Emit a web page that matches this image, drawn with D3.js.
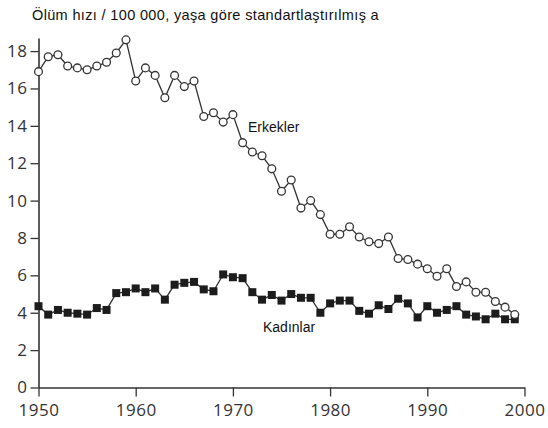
<!DOCTYPE html>
<html>
<head>
<meta charset="utf-8">
<script src="https://cdn.jsdelivr.net/npm/d3@7"></script>
<style>
  html, body { margin: 0; padding: 0; background: #fff; }
  svg { display: block; }
  .tick text { font-family: "Open Sans", sans-serif; font-size: 17px; fill: #333; letter-spacing: 0.5px; }
</style>
</head>
<body>
<svg id="chart" width="548" height="428"></svg>
<script>
// Age-standardised death rate per 100 000, by year
const years = d3.range(1950, 2000);
const erkekler = [
  16.9, 17.7, 17.8, 17.2, 17.1, 17.0, 17.2, 17.4, 17.9, 18.6,
  16.4, 17.1, 16.7, 15.5, 16.7, 16.1, 16.4, 14.5, 14.7, 14.2,
  14.6, 13.1, 12.6, 12.4, 11.7, 10.5, 11.1, 9.6, 10.0, 9.25,
  8.2, 8.2, 8.6, 8.05, 7.8, 7.7, 8.05, 6.9, 6.85, 6.6,
  6.35, 5.95, 6.35, 5.4, 5.65, 5.1, 5.1, 4.6, 4.3, 3.9
];
const kadinlar = [
  4.35, 3.9, 4.15, 4.0, 3.95, 3.9, 4.25, 4.15, 5.05, 5.1,
  5.3, 5.1, 5.3, 4.7, 5.5, 5.6, 5.65, 5.25, 5.15, 6.05,
  5.9, 5.85, 5.1, 4.7, 4.95, 4.65, 5.0, 4.8, 4.8, 4.0,
  4.5, 4.65, 4.65, 4.1, 3.95, 4.4, 4.2, 4.75, 4.5, 3.75,
  4.35, 4.0, 4.15, 4.35, 3.9, 3.8, 3.65, 3.95, 3.65, 3.65
];
const xTicks = [1950, 1960, 1970, 1980, 1990, 2000];
const yTicks = [0, 2, 4, 6, 8, 10, 12, 14, 16, 18];
const titleText = "Ölüm hızı / 100 000, yaşa göre standartlaştırılmış a";

const svg = d3.select("#chart");
const plot = { left: 38.5, right: 524.5, bottom: 387.5, top: 38 };

const x = d3.scaleLinear().domain([1950, 2000]).range([plot.left, plot.right]);
const y = d3.scaleLinear().domain([0, 18.7]).range([plot.bottom, plot.top]);

const ink = "#333";

// axes
const xAxis = svg.append("g")
  .attr("transform", `translate(0,${plot.bottom})`)
  .call(d3.axisBottom(x).tickValues(xTicks).tickFormat(d3.format("d"))
    .tickSize(9).tickSizeOuter(0).tickPadding(7));
const yAxis = svg.append("g")
  .attr("transform", `translate(${plot.left},0)`)
  .call(d3.axisLeft(y).tickValues(yTicks).tickSize(8).tickSizeOuter(0).tickPadding(3));

[xAxis, yAxis].forEach(g => {
  g.select(".domain").attr("stroke", ink).attr("stroke-width", 1.6);
  g.selectAll(".tick line").attr("stroke", ink).attr("stroke-width", 1.3);
});
xAxis.selectAll(".tick text").attr("dy", "0.76em");

const line = d3.line().x((d, i) => x(years[i])).y(d => y(d));

// Kadınlar series: filled squares
svg.append("path").datum(kadinlar)
  .attr("d", line).attr("fill", "none")
  .attr("stroke", ink).attr("stroke-width", 1.3);
const sq = 8;
svg.append("g").selectAll("rect").data(kadinlar).join("rect")
  .attr("x", (d, i) => x(years[i]) - sq / 2)
  .attr("y", d => y(d) - sq / 2)
  .attr("width", sq).attr("height", sq)
  .attr("fill", "#1c1c1c");

// Erkekler series: open circles
svg.append("path").datum(erkekler)
  .attr("d", line).attr("fill", "none")
  .attr("stroke", ink).attr("stroke-width", 1.3);
svg.append("g").selectAll("circle").data(erkekler).join("circle")
  .attr("cx", (d, i) => x(years[i]))
  .attr("cy", d => y(d))
  .attr("r", 3.9)
  .attr("fill", "#fff")
  .attr("stroke", ink).attr("stroke-width", 1.3);

// title and series labels
svg.append("text")
  .attr("x", 32).attr("y", 20)
  .attr("font-family", "'Liberation Sans Narrow', 'Liberation Sans', Arial, sans-serif")
  .attr("font-size", 14.5).attr("letter-spacing", "0.35px").attr("fill", "#111")
  .text(titleText);

svg.append("text")
  .attr("x", 248).attr("y", 132)
  .attr("font-family", "'Liberation Sans', Arial, sans-serif")
  .attr("font-size", 14).attr("fill", "#111")
  .text("Erkekler");

svg.append("text")
  .attr("x", 263).attr("y", 332)
  .attr("font-family", "'Liberation Sans', Arial, sans-serif")
  .attr("font-size", 14).attr("fill", "#111")
  .text("Kadınlar");
</script>
</body>
</html>
